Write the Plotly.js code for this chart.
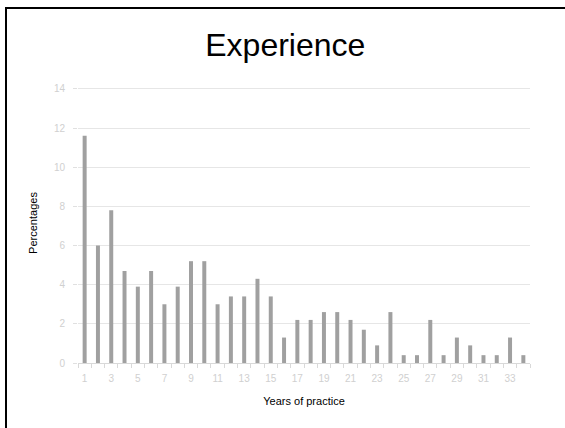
<!DOCTYPE html>
<html>
<head>
<meta charset="utf-8">
<script src="https://cdn.plot.ly/plotly-3.0.1.min.js"></script>
<style>
html,body{margin:0;padding:0;background:#fff;}
#wrap{position:relative;width:565px;height:428px;overflow:hidden;}
#chart{position:absolute;left:0;top:0;width:565px;height:428px;}
#frame{position:absolute;left:5px;top:7px;width:600px;height:500px;border-left:2px solid #000;border-top:2px solid #000;pointer-events:none;}
</style>
</head>
<body>
<div id="wrap"><div id="chart"></div><div id="frame"></div></div>
<script>
const years = [1,2,3,4,5,6,7,8,9,10,11,12,13,14,15,16,17,18,19,20,21,22,23,24,25,26,27,28,29,30,31,32,33,34];
const percentages = [11.6,6.0,7.8,4.7,3.9,4.7,3.0,3.9,5.2,5.2,3.0,3.4,3.4,4.3,3.4,1.3,2.2,2.2,2.6,2.6,2.2,1.7,0.9,2.6,0.4,0.4,2.2,0.4,1.3,0.9,0.4,0.4,1.3,0.4];
const xTickVals = [1,3,5,7,9,11,13,15,17,19,21,23,25,27,29,31,33];
const yTickVals = [0,2,4,6,8,10,12,14];

const font = "Liberation Sans, Arial, sans-serif";
Plotly.newPlot('chart', [{
  type: 'bar',
  x: years,
  y: percentages,
  marker: {color: '#a0a0a0'},
  hoverinfo: 'x+y'
}], {
  width: 565, height: 428,
  margin: {l: 78, r: 35, t: 83.2, b: 64.5, pad: 0},
  paper_bgcolor: '#fff', plot_bgcolor: '#fff',
  bargap: 0.7,
  showlegend: false,
  font: {family: font, color: '#000'},
  title: {text: 'Experience', font: {family: font, size: 32, color: '#000'}, x: 0.505, xanchor: 'center', y: 0.895, yanchor: 'middle'},
  xaxis: {
    range: [0.5, 34.5],
    tickmode: 'array', tickvals: xTickVals,
    ticks: '', ticklen: 0,
    minor: {tickmode: 'linear', tick0: 0.5, dtick: 1, ticks: 'outside', ticklen: 4, tickcolor: '#d9d9d9', showgrid: false},
    tickfont: {family: font, size: 10, color: '#d0d0d0'},
    showline: true, linecolor: '#d9d9d9', linewidth: 1,
    showgrid: false, zeroline: false,
    ticklabelstandoff: 6,
    title: {text: 'Years of practice', font: {family: font, size: 11, color: '#000'}, standoff: 14}
  },
  yaxis: {
    range: [0, 14.3],
    tickmode: 'array', tickvals: yTickVals,
    ticks: 'outside', ticklen: 4, tickcolor: '#e0e0e0',
    tickfont: {family: font, size: 10, color: '#d0d0d0'},
    showgrid: true, gridcolor: '#e6e6e6', gridwidth: 1,
    zeroline: false, showline: false,
    ticklabelstandoff: 6,
    title: {text: 'Percentages', font: {family: font, size: 11, color: '#000'}, standoff: 14}
  }
}, {displayModeBar: false, staticPlot: true});
</script>
</body>
</html>
